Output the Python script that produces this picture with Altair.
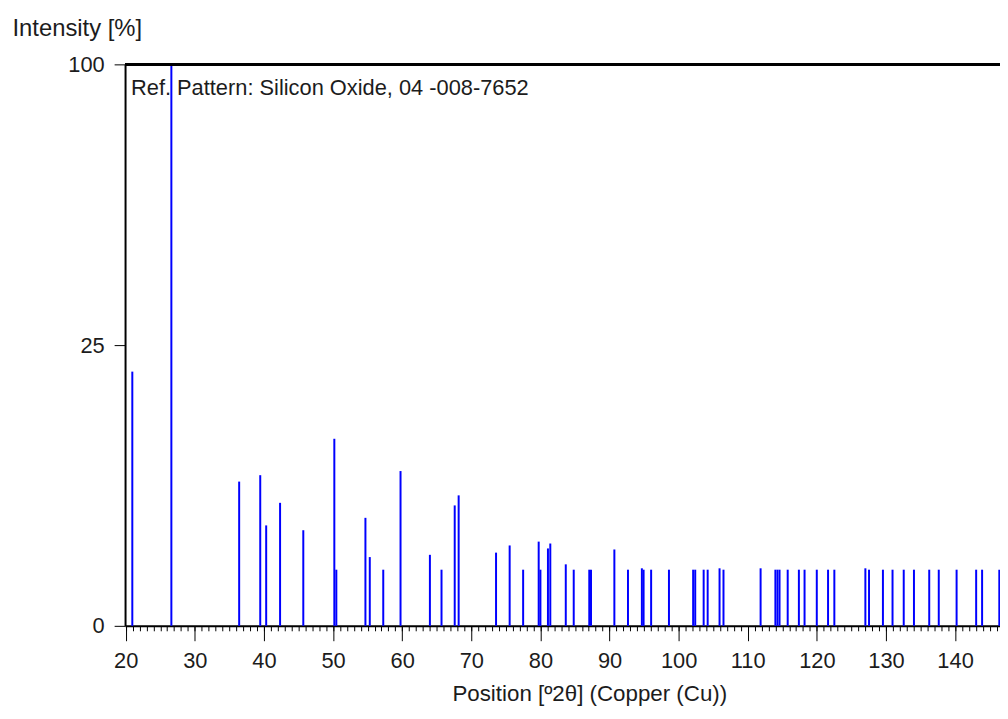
import altair as alt
import pandas as pd

# Peak positions (deg 2-theta) and relative intensities (%)
positions = [20.95, 26.6, 36.41, 39.46, 40.32, 42.33, 45.69, 50.18, 50.47, 54.68,
             55.31, 57.26, 59.76, 64.01, 65.69, 67.60, 68.17, 73.58, 75.55, 77.50,
             79.75, 80.00, 81.09, 81.43, 83.67, 84.82, 87.07, 87.32, 90.70, 92.67,
             94.68, 94.93, 96.02, 98.60, 102.1, 102.4, 103.62, 104.20, 105.92, 106.49,
             111.86, 114.0, 114.3, 114.6, 115.78, 117.40, 118.22, 119.99, 121.62, 122.53,
             127.02, 127.55, 129.56, 130.95, 132.57, 134.05, 136.26, 137.64, 140.22, 143.05,
             143.91, 146.4]
intensities = [20.5, 100, 6.6, 7.2, 3.2, 4.8, 2.9, 11.1, 1.0, 3.7,
               1.5, 1.0, 7.6, 1.6, 1.0, 4.6, 5.4, 1.7, 2.05, 1.0,
               2.25, 1.0, 1.9, 2.15, 1.2, 1.0, 1.0, 1.0, 1.85, 1.0,
               1.05, 1.0, 1.0, 1.0, 1.0, 1.0, 1.0, 1.0, 1.05, 1.0,
               1.05, 1.0, 1.0, 1.0, 1.0, 1.0, 1.0, 1.0, 1.0, 1.0,
               1.05, 1.0, 1.0, 1.0, 1.0, 1.0, 1.0, 1.0, 1.0, 1.0,
               1.0, 1.0]

x_major = list(range(20, 141, 10))
x_minor = list(range(20, 147, 1))
y_ticks = [0, 25, 100]
ref_label = ["Ref. Pattern: Silicon Oxide, 04 -008-7652"]

FONT = "Liberation Sans"
TXT = "#1c1c1c"

df = pd.DataFrame({"pos": positions, "inten": intensities})
xscale = alt.Scale(domain=[19.9, 146.5], nice=False, zero=False)
yscale = alt.Scale(type="sqrt", domain=[0, 100], nice=False, zero=True)

major_axis = alt.Axis(
    values=x_major, format="d", orient="bottom", grid=False,
    tickSize=15, tickColor="black", tickWidth=1,
    domainColor="black", domainWidth=2,
    labelFont=FONT, labelFontSize=22, labelColor=TXT, labelPadding=10,
    labelFlush=False, labelOverlap=False,
    title="Position [º2θ] (Copper (Cu))", titleFont=FONT, titleFontSize=22.5,
    titleFontWeight="normal", titleColor=TXT, titleAlign="center",
    titleBaseline="alphabetic", titleX=468, titleY=75,
)
minor_axis = alt.Axis(
    values=x_minor, orient="bottom", grid=False, domain=False, labels=False,
    tickSize=5, tickColor="black", tickWidth=1, title=None,
)
y_axis = alt.Axis(
    values=y_ticks, format="d", grid=False, orient="left",
    tickSize=11, tickColor="black", tickWidth=1,
    domainColor="black", domainWidth=2,
    labelFont=FONT, labelFontSize=22, labelColor=TXT, labelPadding=10,
    labelBaseline="middle", labelFlush=False,
    title="Intensity [%]", titleFont=FONT, titleFontSize=24,
    titleFontWeight="normal", titleColor=TXT, titleAngle=0,
    titleAlign="left", titleBaseline="alphabetic", titleX=-114, titleY=-29,
)

bars = alt.Chart(df).mark_rule(color="#0000ff", strokeWidth=2).encode(
    x=alt.X("pos:Q", scale=xscale, axis=major_axis),
    y=alt.Y("inten:Q", scale=yscale, axis=y_axis),
    y2=alt.datum(0),
)

minor = alt.Chart(df).mark_point(opacity=0).encode(
    x=alt.X("pos:Q", scale=xscale, axis=minor_axis),
)

border = alt.Chart(df).mark_rule(color="black", strokeWidth=2).encode(
    x=alt.value(0), x2=alt.value(882), y=alt.value(0)
)

label = alt.Chart(pd.DataFrame({"label": ref_label})).mark_text(
    align="left", baseline="alphabetic", font=FONT, fontSize=22, color=TXT
).encode(text="label:N", x=alt.value(6), y=alt.value(31))

chart = alt.layer(label, bars, border, minor).resolve_axis(
    x="independent"
).properties(
    width=882, height=566,
    padding={"left": 118, "top": 54, "right": 0, "bottom": 80},
    autosize="none",
).configure_view(stroke=None).configure(background="white")

chart.save("out.html", embed_options={"renderer": "svg", "actions": False})
